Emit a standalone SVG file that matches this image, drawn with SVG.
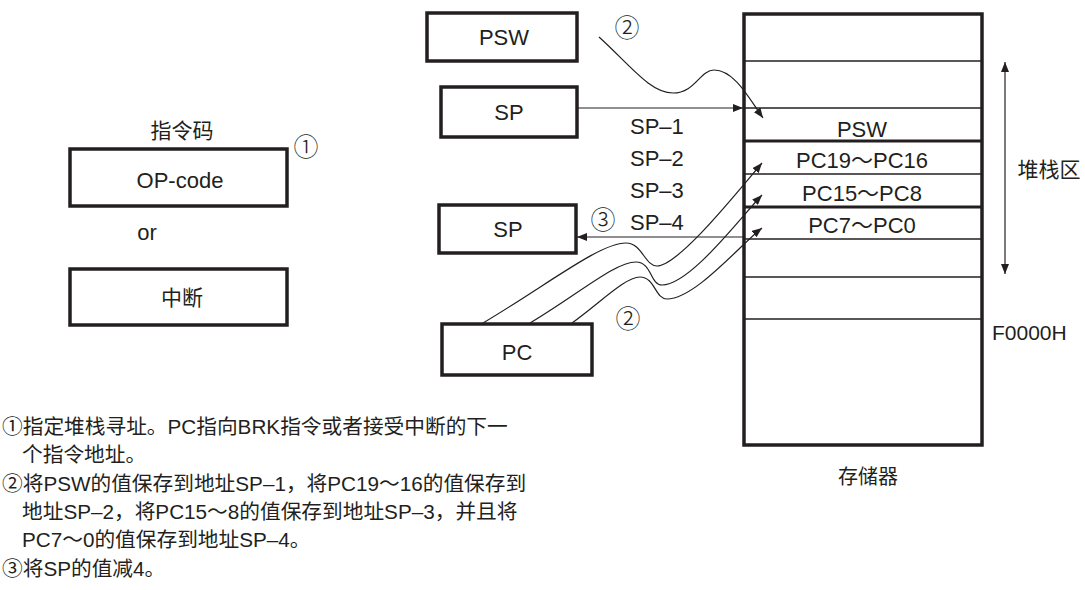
<svg xmlns="http://www.w3.org/2000/svg" width="1085" height="590" viewBox="0 0 1085 590">
<style>
text{font-family:"Liberation Sans","Noto Sans CJK SC",sans-serif;fill:#231f20}
.lbl{font-size:22px;text-anchor:middle}
.cjk{font-size:21px;text-anchor:middle}
.note{font-size:20.7px}
.box{fill:#fff;stroke:#231f20;stroke-width:3.5}
.cell{stroke:#231f20;stroke-width:1.6}
.cellT{stroke:#231f20;stroke-width:3}
.con{fill:none;stroke:#231f20;stroke-width:1.2}
.circ{font-family:"Noto Sans CJK SC",sans-serif;font-size:25px;text-anchor:middle;font-weight:300}
</style>
<defs>
<marker id="ah" viewBox="0 0 10 8" refX="10" refY="4" markerWidth="10" markerHeight="8" markerUnits="userSpaceOnUse" orient="auto">
<path d="M0,0 L10,4 L0,8 Z" fill="#231f20"/>
</marker>
<marker id="ahs" viewBox="0 0 10 8" refX="0" refY="4" markerWidth="10" markerHeight="8" markerUnits="userSpaceOnUse" orient="auto">
<path d="M10,0 L0,4 L10,8 Z" fill="#231f20"/>
</marker>
</defs>
<rect width="1085" height="590" fill="#fff"/>

<g id="opcode-label"><text class="cjk" x="182" y="138">指令码</text></g>
<g id="opcode"><rect class="box" x="70" y="149" width="217" height="57"/><text class="lbl" x="180" y="188">OP-code</text></g>
<g id="or"><text class="lbl" x="147" y="240">or</text></g>
<g id="interrupt"><rect class="box" x="70" y="269" width="217" height="56"/><text class="cjk" x="182" y="305">中断</text></g>
<g id="step1"><text class="circ" x="306" y="156">①</text></g>

<g id="psw"><rect class="box" x="427" y="13" width="150" height="48"/><text class="lbl" x="504" y="45">PSW</text></g>
<g id="sp-top"><rect class="box" x="441" y="87" width="136" height="50"/><text class="lbl" x="509" y="120">SP</text></g>
<g id="sp-bottom"><rect class="box" x="439" y="205" width="137" height="48"/><text class="lbl" x="508" y="237">SP</text></g>
<g id="pc"><rect class="box" x="442" y="324" width="150" height="51"/><text class="lbl" x="517" y="360">PC</text></g>

<g id="sp-labels">
<text class="lbl" x="630" y="134" style="text-anchor:start">SP–1</text>
<text class="lbl" x="630" y="166" style="text-anchor:start">SP–2</text>
<text class="lbl" x="630" y="198" style="text-anchor:start">SP–3</text>
<text class="lbl" x="630" y="230" style="text-anchor:start">SP–4</text>
<text class="circ" x="627" y="37">②</text>
<text class="circ" x="603" y="229">③</text>
<text class="circ" x="628" y="328">②</text>
</g>

<g id="memory">
<rect class="box" x="744" y="14" width="238" height="431" stroke-width="4"/>
<line class="cell" x1="744" y1="61" x2="982" y2="61"/>
<line class="cell" x1="744" y1="108" x2="982" y2="108"/>
<line class="cellT" x1="744" y1="141" x2="982" y2="141"/>
<line class="cell" x1="744" y1="174" x2="982" y2="174"/>
<line class="cellT" x1="744" y1="207" x2="982" y2="207"/>
<line class="cell" x1="744" y1="239" x2="982" y2="239"/>
<line class="cell" x1="744" y1="277" x2="982" y2="277"/>
<line class="cell" x1="744" y1="319" x2="982" y2="319"/>
<text class="lbl" x="862" y="137">PSW</text>
<text class="lbl" x="862" y="168">PC19～PC16</text>
<text class="lbl" x="862" y="201">PC15～PC8</text>
<text class="lbl" x="862" y="233">PC7～PC0</text>
</g>
<g id="stack-area">
<line class="con" x1="1005" y1="62" x2="1005" y2="274" marker-start="url(#ahs)" marker-end="url(#ah)"/>
<text class="cjk" x="1049" y="177">堆栈区</text>
</g>
<g id="f0000h"><text class="lbl" x="992" y="340" style="text-anchor:start;font-size:21px">F0000H</text></g>
<g id="memory-label"><text class="cjk" x="868" y="484" style="font-size:20px">存储器</text></g>

<g id="connectors">
<path class="con" d="M599,37 C630,65 650,93 673,93 C695,93 700,70 714,70 C735,70 750,100 763,118" marker-end="url(#ah)"/>
<line class="con" x1="577" y1="108" x2="743" y2="108" marker-end="url(#ah)"/>
<line class="con" x1="744" y1="237" x2="577" y2="237" marker-end="url(#ah)"/>
<path class="con" d="M483,323 C550,283 600,243 626,243 C642,243 645,266 657,266 C678,266 735,195 762,163" marker-end="url(#ah)"/>
<path class="con" d="M530,323 C580,293 615,262 636,262 C652,262 650,285 662,285 C690,285 740,218 762,195" marker-end="url(#ah)"/>
<path class="con" d="M572,323 C600,303 625,277 640,277 C655,277 655,299 667,299 C695,299 740,245 762,228" marker-end="url(#ah)"/>
</g>

<g id="notes">
<text class="note" x="2" y="434">①指定堆栈寻址。PC指向BRK指令或者接受中断的下一</text>
<text class="note" x="22" y="462">个指令地址。</text>
<text class="note" x="2" y="491">②将PSW的值保存到地址SP–1，将PC19～16的值保存到</text>
<text class="note" x="22" y="519">地址SP–2，将PC15～8的值保存到地址SP–3，并且将</text>
<text class="note" x="22" y="547">PC7～0的值保存到地址SP–4。</text>
<text class="note" x="2" y="576">③将SP的值减4。</text>
</g>
</svg>
